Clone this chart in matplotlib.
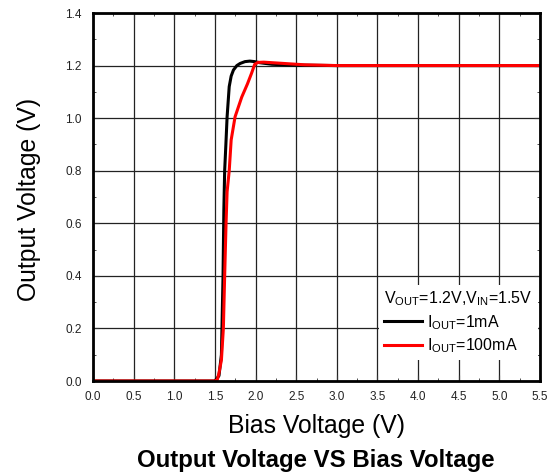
import matplotlib
matplotlib.use("Agg")
import matplotlib.pyplot as plt
from matplotlib.lines import Line2D
from matplotlib.ticker import MultipleLocator

plt.rcParams.update({
    "font.family": ["Liberation Sans", "DejaVu Sans"],
    "mathtext.fontset": "custom",
    "mathtext.rm": "Liberation Sans",
    "mathtext.it": "Liberation Sans",
    "mathtext.bf": "Liberation Sans:bold",
})

# bias sweep, output voltage at 1 mA load
bias_1ma = [0.0, 1.50, 1.55, 1.58, 1.60, 1.61, 1.62, 1.635, 1.65, 1.676,
            1.70, 1.728, 1.77, 1.81, 1.87, 1.93, 1.99, 2.05, 2.2, 2.4, 3.0, 5.5]
vout_1ma = [0.0, 0.0, 0.02, 0.10, 0.40, 0.65, 0.80, 0.90, 1.005, 1.12,
            1.16, 1.183, 1.20, 1.208, 1.215, 1.217, 1.215, 1.211, 1.205, 1.202, 1.200, 1.200]

# bias sweep, output voltage at 100 mA load
bias_100ma = [0.0, 1.50, 1.53, 1.55, 1.58, 1.604, 1.62, 1.637, 1.65, 1.676,
              1.70, 1.748, 1.83, 1.90, 1.95, 1.99, 2.03, 2.1, 2.3, 2.6, 3.0, 5.5]
vout_100ma = [0.0, 0.0, 0.005, 0.03, 0.08, 0.20, 0.40, 0.60, 0.72, 0.80,
              0.917, 1.005, 1.08, 1.13, 1.17, 1.205, 1.212, 1.213, 1.209, 1.203, 1.200, 1.200]

x_ticks = [0.0, 0.5, 1.0, 1.5, 2.0, 2.5, 3.0, 3.5, 4.0, 4.5, 5.0, 5.5]
y_ticks = [0.0, 0.2, 0.4, 0.6, 0.8, 1.0, 1.2, 1.4]

W, H = 558, 476
fig = plt.figure(figsize=(W / 100, H / 100), dpi=100)
ax = fig.add_axes([93 / W, 1 - 381 / H, 447 / W, 368 / H])

ax.plot(bias_1ma, vout_1ma, color="black", lw=2.2, zorder=3)
ax.plot(bias_100ma, vout_100ma, color="#ff0000", lw=2.2, zorder=4)

ax.set_xlim(0, 5.5)
ax.set_ylim(0, 1.4)
ax.set_xticks(x_ticks)
ax.set_yticks(y_ticks)
ax.set_xticklabels([f"{v:.1f}" for v in x_ticks])
ax.set_yticklabels([f"{v:.1f}" for v in y_ticks])
ax.xaxis.set_minor_locator(MultipleLocator(0.25))
ax.yaxis.set_minor_locator(MultipleLocator(0.1))
ax.tick_params(which="both", direction="in", top=True, right=True,
               labelsize=8.5, color="#333333", labelcolor="#222222")
ax.tick_params(which="major", length=4, width=0.8)
ax.tick_params(which="minor", length=2.5, width=0.6)
ax.tick_params(axis="y", which="major", pad=8)
ax.tick_params(axis="x", which="major", pad=7.5)
ax.grid(True, which="major", color="#222222", lw=0.9)
ax.set_axisbelow(True)
for s in ax.spines.values():
    s.set_linewidth(2.0)
    s.set_zorder(5)

# white legend panel in the lower right corner, no border
handles = [Line2D([0], [0], color="black", lw=2.2),
           Line2D([0], [0], color="#ff0000", lw=2.2)]
labels = [r"I$_{\mathrm{OUT}}$=1mA", r"I$_{\mathrm{OUT}}$=100mA"]
leg = ax.legend(handles, labels,
                title=r"V$_{\mathrm{OUT}}$=1.2V,V$_{\mathrm{IN}}$=1.5V",
                loc="lower left", mode="expand",
                bbox_to_anchor=(286 / 447, 21 / 368, 159 / 447, 0.2),
                borderaxespad=0, fontsize=11.5, title_fontsize=11.5,
                alignment="left", fancybox=False, framealpha=1,
                facecolor="white", edgecolor="none", handlelength=2.4,
                handletextpad=0.3, labelspacing=0.3, borderpad=0.3)
leg.set_zorder(6)

fig.text(316 / W, 1 - 426 / H, "Bias Voltage (V)", ha="center",
         va="center", fontsize=17.8)
fig.text(316 / W, 1 - 461 / H, "Output Voltage VS Bias Voltage",
         ha="center", va="center", fontsize=17.3, fontweight="bold")
fig.text(29.5 / W, 1 - 199.5 / H, "Output Voltage (V)", ha="center",
         va="center", rotation=90, fontsize=17.8)

fig.savefig("out.png", dpi=100)
